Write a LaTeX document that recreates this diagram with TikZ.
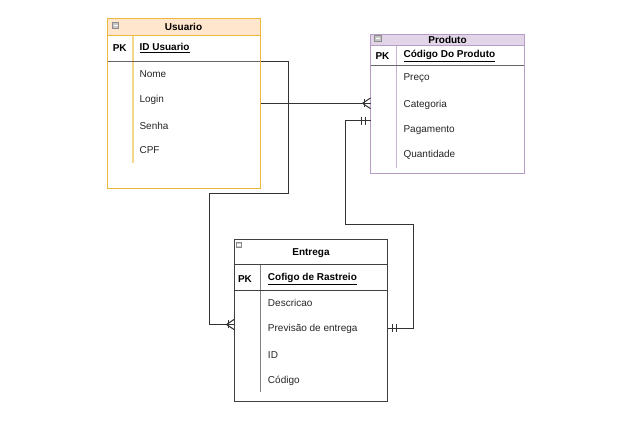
\documentclass[tikz,border=0pt]{standalone}
\usepackage{fontspec}
\setmainfont{Liberation Sans}
\begin{document}
\begin{tikzpicture}[x=0.75pt,y=-0.75pt,
  entbox/.style={draw=#1, line width=0.9pt, inner sep=0pt, outer sep=0pt, anchor=north west, rectangle},
  txt/.style={font=\fontsize{7.5pt}{9pt}\selectfont, inner sep=0pt, anchor=west, text=black!85},
  ttl/.style={font=\bfseries\fontsize{7.5pt}{9pt}\selectfont, inner sep=0pt, text=black},
  pk/.style={font=\bfseries\fontsize{7.5pt}{9pt}\selectfont, inner sep=0pt, text=black},
  key/.style={font=\bfseries\fontsize{7.5pt}{9pt}\selectfont, inner sep=0pt, anchor=west, text=black},
  conn/.style={draw=black!80, line width=0.75pt},
  crow/.style={draw=black!80, line width=0.75pt},
  icon/.style={draw=gray!90, fill=gray!45, line width=0.5pt},
]
\definecolor{ustroke}{RGB}{238,184,64}
\definecolor{usep}{RGB}{245,215,140}
\definecolor{ufill}{RGB}{255,230,204}
\definecolor{pstroke}{RGB}{184,156,200}
\definecolor{psep}{RGB}{200,178,214}
\definecolor{pfill}{RGB}{225,213,231}
\useasboundingbox[fill=white] (0,0) rectangle (642,434);

% ---------- Usuario ----------
\fill[ufill] (107.5,18.5) rectangle (260.5,35.5);
\draw[usep, line width=0.9pt] (133,36) -- (133,163);
\draw[black!60, line width=0.9pt] (107.5,61.5) -- (260.5,61.5);
\draw[ustroke, line width=0.9pt] (107.5,35.5) -- (260.5,35.5);
\node[entbox=ustroke, minimum width={153*0.75pt}, minimum height={170*0.75pt}] (usuario) at (107.5,18.5) {};
\draw[icon] (112.7,22.5) rectangle (118.5,28.3);
\draw[white, line width=0.8pt] (113.7,25.4) -- (117.5,25.4);
\node[ttl] (ut) at (183.5,27) {Usuario};
\node[pk] (upk) at (119.7,48) {PK};
\node[key] (uid) at (139.3,48) {\underline{ID Usuario}};
\node[txt] (u1) at (139.3,74) {Nome};
\node[txt] (u2) at (139.3,100) {Login};
\node[txt] (u3) at (139.3,125.7) {Senha};
\node[txt] (u4) at (139.3,150.5) {CPF};

% ---------- Produto ----------
\fill[pfill] (370.5,34.5) rectangle (524.5,45.5);
\draw[psep, line width=0.9pt] (396.5,46) -- (396.5,168);
\draw[black!60, line width=0.9pt] (370.5,65.5) -- (524.5,65.5);
\draw[pstroke, line width=0.9pt] (370.5,45.5) -- (524.5,45.5);
\node[entbox=pstroke, minimum width={154*0.75pt}, minimum height={139*0.75pt}] (produto) at (370.5,34.5) {};
\draw[icon] (374.7,35.5) rectangle (381.2,41.5);
\draw[white, line width=0.8pt] (375.7,38.5) -- (380.2,38.5);
\node[ttl] (pt) at (447.5,39.8) {Produto};
\node[pk] (ppk) at (382.5,56) {PK};
\node[key] (pid) at (403.3,56) {\underline{Código Do Produto}};
\node[txt] (p1) at (403.3,78.3) {Preço};
\node[txt] (p2) at (403.3,104.5) {Categoria};
\node[txt] (p3) at (403.3,130) {Pagamento};
\node[txt] (p4) at (403.3,155.3) {Quantidade};

% ---------- Entrega ----------
\draw[black!50, line width=0.9pt] (260.5,265) -- (260.5,392);
\draw[black!75, line width=0.9pt] (234.5,264.5) -- (387.5,264.5);
\draw[black!75, line width=0.9pt] (234.5,290.5) -- (387.5,290.5);
\node[entbox=black!75, minimum width={153*0.75pt}, minimum height={162*0.75pt}] (entrega) at (234.5,239.5) {};
\draw[icon] (236.5,242.5) rectangle (241.5,247.5);
\draw[white, line width=0.8pt] (237.3,245) -- (240.7,245);
\node[ttl] (et) at (311,253.3) {Entrega};
\node[pk] (epk) at (245,279) {PK};
\node[key] (eid) at (267.7,279) {\underline{Cofigo de Rastreio}};
\node[txt] (e1) at (267.7,303.3) {Descricao};
\node[txt] (e2) at (267.7,329.3) {Previsão de entrega};
\node[txt] (e3) at (267.7,355) {ID};
\node[txt] (e4) at (267.7,381) {Código};

% ---------- connector end points ----------
\coordinate (ua) at (260.5,62);
\coordinate (ub) at (260.5,103.3);
\coordinate (pa) at (370.5,103.3);
\coordinate (pb) at (370.5,120.7);
\coordinate (ea) at (234.5,324.5);
\coordinate (eb) at (387.5,328.3);

% Usuario -> Entrega (one to many)
\draw[conn] (ua) -- (288.5,62) -- (288.5,193.7) -- (209.3,193.7) -- (209.3,324.5) -- (ea);
\draw[crow] ([xshift=-4.5]ea) ++(0,-4) -- ++(0,8);
\draw[crow] ([xshift=-6]ea) -- ([yshift=-4]ea);
\draw[crow] ([xshift=-6]ea) -- ([yshift=4]ea);

% Usuario -> Produto (one to many)
\draw[conn] (ub) -- (pa);
\draw[crow] ([xshift=-4.5]pa) ++(0,-4) -- ++(0,8);
\draw[crow] ([xshift=-6]pa) -- ([yshift=-4]pa);
\draw[crow] ([xshift=-6]pa) -- ([yshift=4]pa);

% Produto -> Entrega (one to one)
\draw[conn] (pb) -- (345.7,120.7) -- (345.7,224.7) -- (413.3,224.7) -- (413.3,328.3) -- (eb);
\draw[crow] ([xshift=-4]pb) ++(0,-4) -- ++(0,8);
\draw[crow] ([xshift=-7]pb) ++(0,-4) -- ++(0,8);
\draw[crow] ([xshift=4]eb) ++(0,-4) -- ++(0,8);
\draw[crow] ([xshift=7]eb) ++(0,-4) -- ++(0,8);
\end{tikzpicture}
\end{document}
